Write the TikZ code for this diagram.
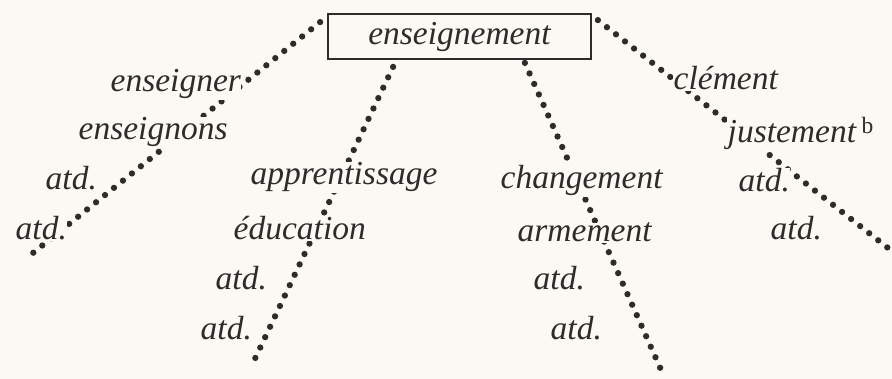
\documentclass[tikz,border=0pt]{standalone}
\usepackage{fontspec}
\setmainfont{Liberation Serif}
\usetikzlibrary{backgrounds}
\definecolor{paper}{HTML}{FAF9F3}
\definecolor{ink}{HTML}{2F2B2B}
\tikzset{
  lbl/.style={anchor=base west, inner sep=0.5pt, fill=paper, text=ink,
    font=\fontsize{33.5}{40}\selectfont\itshape},
  headbox/.style={draw=ink, line width=1.8pt, minimum width=263pt, minimum height=45pt,
    inner sep=0pt, text=ink, fill=paper, font=\fontsize{33.5}{40}\selectfont\itshape,
    text height=21pt, text depth=5pt},
  dotline/.style={draw=ink, line width=6.3pt, line cap=round, dash pattern=on 0pt off 11.5pt},
}
\begin{document}
\begin{tikzpicture}[x=1pt,y=-1pt]
\useasboundingbox (0,0) rectangle (892,379);
% head
\node[headbox] (box) at (459.5,36.5) {enseignement};
% left branch
\node[lbl] (enseigner) at (110,92) {enseigner};
\node[lbl] (enseignons) at (78,140) {enseignons};
\node[lbl] (la1) at (45,190) {atd.};
\node[lbl] (la2) at (15,240) {atd.};
% middle-left branch
\node[lbl] (apprent) at (250,185) {apprentissage};
\node[lbl] (educ) at (233,240) {éducation};
\node[lbl] (ma1) at (215,290) {atd.};
\node[lbl] (ma2) at (200,340) {atd.};
% middle-right branch
\node[lbl] (change) at (500,189) {changement};
\node[lbl] (arme) at (517,242) {armement};
\node[lbl] (mb1) at (533,290) {atd.};
\node[lbl] (mb2) at (550,340) {atd.};
% right branch
\node[lbl] (clem) at (673,90) {clément};
\node[lbl] (juste) at (727,143) {justement\,\textsuperscript{\upshape b}};
\node[lbl] (ra1) at (738,192) {atd.};
\node[lbl] (ra2) at (770,240) {atd.};
% free ends
\coordinate (eL) at (28,257);
\coordinate (eML) at (252,365);
\coordinate (eMR) at (662,372);
\coordinate (eR) at (888,248);
\begin{pgfonlayer}{background}
\fill[paper] (0,0) rectangle (892,379);
\draw[dotline] ([shift={(-7,9)}]box.north west) -- (eL);
\draw[dotline] ([shift={(66,7)}]box.south west) -- (eML);
\draw[dotline] ([shift={(-67,3)}]box.south east) -- (eMR);
\draw[dotline] ([shift={(6,7)}]box.north east) -- (eR);
\end{pgfonlayer}
\end{tikzpicture}
\end{document}
